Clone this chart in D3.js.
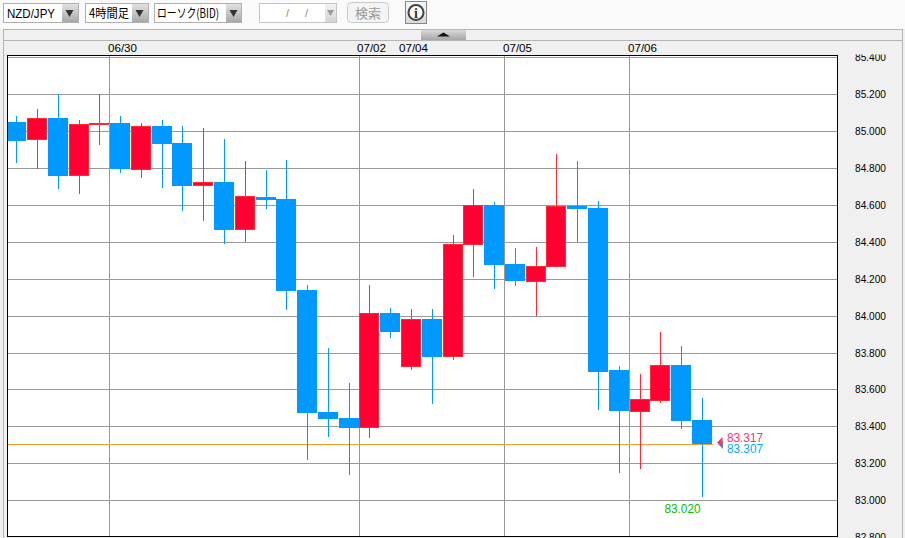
<!DOCTYPE html>
<html><head><meta charset="utf-8">
<script src="https://cdn.jsdelivr.net/npm/d3@7/dist/d3.min.js"></script>
<style>html,body{margin:0;padding:0;background:#f0f0f0;overflow:hidden}svg{display:block}</style>
</head><body><svg id="c" width="905" height="538"></svg>
<script>
const opens  = [85.050,84.949,85.072,84.758,85.034,85.044,84.790,85.028,84.936,84.703,84.725,84.465,84.644,84.633,84.140,83.479,83.447,83.393,84.016,83.723,83.983,83.777,84.384,84.600,84.281,84.183,84.265,84.595,84.584,83.707,83.479,83.539,83.734,83.436];
const highs  = [85.082,85.120,85.198,85.061,85.198,85.082,85.044,85.061,85.028,85.018,84.958,84.839,84.790,84.844,84.167,83.826,83.636,84.167,84.043,84.037,84.037,84.438,84.687,84.617,84.368,84.373,84.877,84.839,84.622,83.728,83.685,83.913,83.837,83.555];
const lows   = [84.828,84.795,84.687,84.660,84.925,84.774,84.747,84.693,84.568,84.514,84.389,84.399,84.579,84.032,83.220,83.344,83.138,83.339,83.880,83.707,83.523,83.761,84.211,84.146,84.162,84.000,84.265,84.399,83.490,83.149,83.171,83.528,83.387,83.020];
const closes = [84.947,85.072,84.758,85.039,85.046,84.795,85.028,84.931,84.703,84.725,84.465,84.649,84.628,84.135,83.474,83.442,83.393,84.016,83.913,83.983,83.777,84.389,84.600,84.276,84.189,84.270,84.595,84.579,83.696,83.485,83.550,83.734,83.431,83.307];
const priceTicks = [82.8,83.0,83.2,83.4,83.6,83.8,84.0,84.2,84.4,84.6,84.8,85.0,85.2,85.4];
const dateLabels = ["06/30","07/02","07/04","07/05","07/06"];
const dateIndex  = [5,17,19,24,30];
const gridIndex  = [5,17,24,30];
const bidPrice = 83.307, askPrice = 83.317, lowPrice = 83.020;

const BLUE="#0099ff", RED="#ff0033", REDLINE="#ff2a33", GRID="#999999";
const SANS="'Liberation Sans',Arial,sans-serif", JP="'Noto Sans CJK JP',sans-serif";

const svg=d3.select("#c");
const defs=svg.append("defs");
const grad=(id,a,b)=>{const g=defs.append("linearGradient").attr("id",id).attr("x1",0).attr("x2",0).attr("y1",0).attr("y2",1);
  g.append("stop").attr("offset",0).attr("stop-color",a);g.append("stop").attr("offset",1).attr("stop-color",b);};
grad("btn","#e2e2e2","#a8a8a8");grad("btnL","#f2f2f2","#d4d4d4");grad("col","#d8d8d8","#a6a6a6");grad("info","#f6f6f6","#d8d8d8");
defs.append("clipPath").attr("id","plot").append("rect").attr("x",8).attr("y",56).attr("width",829).attr("height",480);
defs.append("clipPath").attr("id","axis").append("rect").attr("x",840).attr("y",54.5).attr("width",62).attr("height",484);

// toolbar + panel
svg.append("rect").attr("width",905).attr("height",29).attr("fill","#fafafa");
svg.append("rect").attr("x",3.5).attr("y",29.5).attr("width",899).attr("height",520).attr("fill","#f0f0f0").attr("stroke","#b4b4b4");
svg.append("line").attr("x1",4).attr("x2",903).attr("y1",40.5).attr("y2",40.5).attr("stroke","#b4b4b4");
svg.append("rect").attr("x",421).attr("y",30).attr("width",45).attr("height",10).attr("fill","url(#col)");
svg.append("path").attr("d","M437 36.5L443.5 32.5L450 36.5Z").attr("fill","#111");

function select(x0,x1,xb,label,lx,tl,font,fs){
  svg.append("rect").attr("x",x0+.5).attr("y",3.5).attr("width",x1-x0-1).attr("height",19).attr("fill","#fff").attr("stroke","#b0b0b0");
  svg.append("rect").attr("x",xb).attr("y",4).attr("width",x1-xb-1).attr("height",18).attr("fill","url(#btn)");
  svg.append("path").attr("d",`M${xb+3.5} 10L${xb+11.5} 10L${xb+7.5} 17Z`).attr("fill","#333");
  svg.append("text").attr("x",lx).attr("y",17.5).attr("font-family",font).attr("font-size",fs).attr("fill","#000")
    .attr("textLength",tl).attr("lengthAdjust","spacingAndGlyphs").text(label);
}
select(3,79,62,"NZD/JPY",7,48,SANS,13);
select(85,149,132,"4時間足",89,40,JP,12.5);
select(154,242,226,"ローソク(BID)",157,62,JP,12.5);
svg.append("rect").attr("x",259.5).attr("y",3.5).attr("width",77).attr("height",19).attr("fill","#fff").attr("stroke","#c4c4c4");
svg.append("rect").attr("x",325).attr("y",4).attr("width",11).attr("height",18).attr("fill","url(#btnL)");
svg.append("path").attr("d","M327 10L334 10L330.5 16Z").attr("fill","#999");
[287.5,306.5].forEach(x=>svg.append("text").attr("x",x).attr("y",17).attr("text-anchor","middle").attr("font-family",SANS).attr("font-size",11).attr("fill","#888").text("/"));
svg.append("rect").attr("x",347.5).attr("y",2.5).attr("width",41).attr("height",20).attr("rx",4).attr("fill","#f4f4f4").attr("stroke","#c8c8c8");
svg.append("text").attr("x",368).attr("y",17.5).attr("text-anchor","middle").attr("font-family",JP).attr("font-size",13).attr("fill","#999").text("検索");
svg.append("rect").attr("x",405.5).attr("y",1.5).attr("width",21).attr("height",22).attr("fill","url(#info)").attr("stroke","#888");
svg.append("circle").attr("cx",416).attr("cy",12.5).attr("r",7.5).attr("fill","#fff").attr("stroke","#444").attr("stroke-width",2);
svg.append("text").attr("x",416).attr("y",17.5).attr("text-anchor","middle").attr("font-family","'Liberation Serif',serif").attr("font-weight","bold").attr("font-size",14).attr("fill","#333").text("i");

// chart scales
const idx=d3.range(opens.length);
const x=d3.scalePoint().domain(idx).range([16.2,701.94]);
const y=d3.scaleLinear().domain([83,85.2]).range([500.2,94.08]);
const X=i=>Math.round(x(i)), Y=v=>Math.round(y(v));

svg.append("rect").attr("x",7.5).attr("y",55.5).attr("width",830).attr("height",481).attr("fill","#fff");
const plot=svg.append("g").attr("clip-path","url(#plot)");

plot.append("g").selectAll("line").data(priceTicks).join("line")
  .attr("x1",8).attr("x2",837).attr("y1",d=>Y(d)+.5).attr("y2",d=>Y(d)+.5).attr("stroke",GRID);
const gridX=d=>Math.round(x(d)-10.9)+.5;
plot.append("g").selectAll("line").data(gridIndex).join("line")
  .attr("x1",gridX).attr("x2",gridX).attr("y1",56).attr("y2",536).attr("stroke",GRID);
plot.append("line").attr("x1",8).attr("x2",X(33)+11).attr("y1",Y(bidPrice)+.5).attr("y2",Y(bidPrice)+.5).attr("stroke","#f0a030");

const g=plot.append("g").selectAll("g").data(idx).join("g");
g.append("line").attr("x1",i=>X(i)+.5).attr("x2",i=>X(i)+.5)
  .attr("y1",i=>Y(highs[i])).attr("y2",i=>Y(lows[i]))
  .attr("stroke",i=>closes[i]<opens[i]?BLUE:REDLINE);
g.append("rect")
  .attr("x",i=>X(i)-10+(closes[i]<opens[i]?0:.5)).attr("width",i=>closes[i]<opens[i]?20:19)
  .attr("y",i=>Y(Math.max(opens[i],closes[i]))+(closes[i]<opens[i]?0:.5))
  .attr("height",i=>Y(Math.min(opens[i],closes[i]))-Y(Math.max(opens[i],closes[i]))-(closes[i]<opens[i]?0:1))
  .attr("fill",i=>closes[i]<opens[i]?BLUE:RED)
  .attr("stroke",i=>closes[i]<opens[i]?"none":REDLINE);

svg.append("rect").attr("x",7.5).attr("y",55.5).attr("width",830).attr("height",481).attr("fill","none").attr("stroke","#000");

// axis labels
svg.append("g").attr("clip-path","url(#axis)").selectAll("text").data(priceTicks).join("text")
  .attr("x",855).attr("y",d=>Y(d)+4).attr("font-family",SANS).attr("font-size",11.5).attr("fill","#000")
  .attr("textLength",31).attr("lengthAdjust","spacingAndGlyphs").text(d=>d.toFixed(3));
svg.append("g").selectAll("text").data(dateLabels).join("text")
  .attr("x",(d,i)=>X(dateIndex[i])-12).attr("y",52).attr("font-family",SANS).attr("font-size",11.5).attr("fill","#000")
  .attr("textLength",29).attr("lengthAdjust","spacingAndGlyphs").text(d=>d);

// latest price markers
const mx=X(33)+15, bidY=Y(bidPrice);
svg.append("path").attr("d",`M${mx+1} ${bidY}L${mx+6} ${bidY-3}L${mx+6} ${bidY+5}Z`).attr("fill","#00aaff");
svg.append("path").attr("d",`M${mx} ${bidY-1.5}L${mx+5.5} ${bidY-7}L${mx+5.5} ${bidY+3.5}Z`).attr("fill","#ff3366");
const priceText=(t,xx,yy,c)=>svg.append("text").attr("x",xx).attr("y",yy).attr("font-family",SANS).attr("font-size",12.5).attr("fill",c)
  .attr("textLength",36).attr("lengthAdjust","spacingAndGlyphs").text(t);
priceText(askPrice.toFixed(3),727,442,"#ff3366");
priceText(bidPrice.toFixed(3),727,453,"#00aaff");
priceText(lowPrice.toFixed(3),664.5,513,"#00c000");
</script></body></html>
